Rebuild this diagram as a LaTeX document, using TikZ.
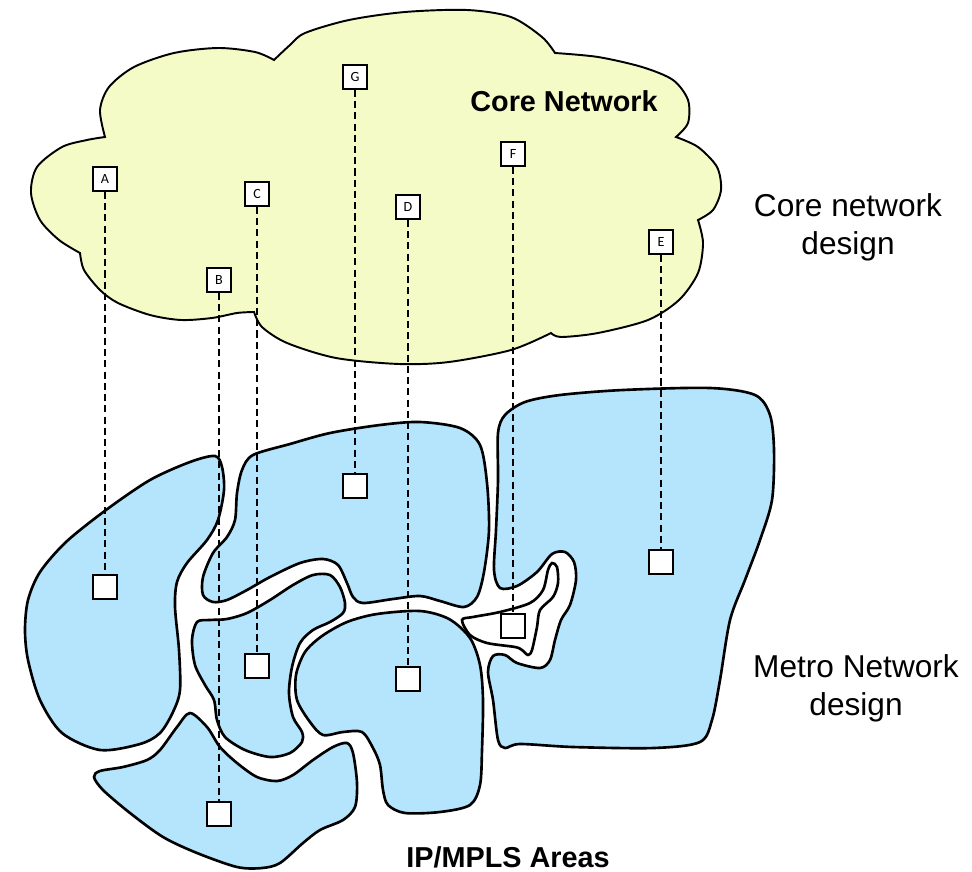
\documentclass[tikz,border=0pt]{standalone}
\usepackage{fontspec}
\setmainfont{Liberation Sans}
\newfontfamily\boxfont{Carlito}
\definecolor{cloudyellow}{RGB}{245,251,199}
\definecolor{metroblue}{RGB}{180,229,252}

\begin{document}
\begin{tikzpicture}[x=0.02cm,y=-0.02cm,
	cloudline/.style={draw=black,line width=1.1pt,fill=cloudyellow},
	area/.style={draw=black,line width=1.5pt,fill=metroblue},
	corebox/.style={draw=black,line width=0.9pt,fill=white,minimum size=0.48cm,inner sep=0pt,font=\boxfont\fontsize{8}{9}\selectfont},
	metrobox/.style={draw=black,line width=1.25pt,fill=white,minimum size=0.48cm,inner sep=0pt},
	link/.style={line width=0.85pt,dash pattern=on 4pt off 2.4pt},
	sidetext/.style={align=center,inner sep=0pt,font=\fontsize{18}{21.5}\selectfont},
	boldtext/.style={inner sep=0pt,font=\fontsize{16.4}{20}\selectfont\bfseries}]
\useasboundingbox (0,0) rectangle (972,871);

\draw[cloudline] plot[smooth] coordinates {(105,137) (100,110) (109,87) (134,67) (174,53) (218,48) (255,52) (274,60)}
	-- plot[smooth] coordinates {(274,60) (290,45) (305,33) (349,20) (405,12) (467,10) (511,17) (542,37) (555,53)}
	-- plot[smooth] coordinates {(555,53) (598,57) (642,67) (673,80) (688,100) (688,123) (676,137)}
	-- plot[smooth] coordinates {(676,137) (698,147) (717,167) (721,190) (713,210) (698,220)}
	-- plot[smooth] coordinates {(698,220) (703,243) (698,273) (679,300) (648,320) (598,333) (561,337) (551,333)}
	-- plot[smooth] coordinates {(551,333) (511,350) (449,362) (399,364) (336,358) (287,343) (262,327) (254,312)}
	-- plot[smooth] coordinates {(254,312) (237,313) (212,318) (181,320) (150,315) (118,303) (100,290) (84,270) (80,253)}
	-- plot[smooth] coordinates {(80,253) (59,240) (40,220) (31,193) (37,167) (62,147) (87,140) (105,137)} -- cycle;

\draw[area] plot[smooth cycle] coordinates {(215,456) (190,462) (150,480) (106,510) (66,542) (40,572) (28,600) (25,630) (28,660) (40,700) (62,733) (100,750) (140,744) (160,733) (173,712) (180,690) (179,650) (175,607) (177,582) (187,563) (207,540) (218,520) (224,490) (222,467)};
\draw[area] plot[smooth cycle] coordinates {(253,455) (242,470) (237,493) (235,520) (227,537) (213,553) (203,577) (203,595) (213,602) (227,600) (247,590) (270,577) (300,563) (323,559) (338,565) (347,583) (353,597) (363,603) (393,599) (420,596) (440,601) (464,607) (477,597) (484,572) (489,530) (487,483) (480,445) (460,428) (420,422) (380,425) (330,433) (290,444)};
\draw[area] plot[smooth cycle] coordinates {(197,622) (210,620) (227,619) (247,613) (270,600) (293,585) (313,575) (330,575) (340,587) (345,603) (343,613) (330,622) (313,630) (300,643) (292,667) (289,693) (293,717) (302,732) (302,742) (290,753) (270,757) (245,750) (225,737) (217,720) (214,700) (205,685) (195,665) (192,640)};
\draw[area] plot[smooth cycle] coordinates {(190,713) (207,727) (220,747) (237,763) (257,777) (277,781) (293,775) (313,760) (333,747) (347,743) (353,753) (357,783) (355,807) (343,820) (320,830) (303,843) (280,863) (262,868) (237,867) (197,853) (163,837) (130,813) (103,790) (94,777) (100,771) (123,767) (147,760) (160,750) (177,727)};
\draw[area] plot[smooth cycle] coordinates {(297,700) (296,675) (305,652) (322,636) (347,622) (377,614) (420,611) (449,619) (470,638) (480,665) (483,700) (482,750) (480,785) (470,805) (440,812) (405,813) (388,805) (383,790) (380,765) (373,748) (362,732) (343,732) (323,735) (310,722)};
\draw[area] plot[smooth cycle] coordinates {(498,433) (505,415) (525,402) (560,395) (623,390) (710,388) (755,395) (770,415) (774,450) (772,500) (760,540) (745,580) (730,620) (720,680) (712,720) (700,742) (654,748) (573,747) (520,744) (505,748) (498,740) (493,700) (488,672) (493,656) (505,655) (517,663) (540,668) (550,660) (555,640) (561,620) (570,605) (576,580) (574,562) (565,552) (552,554) (537,572) (517,586) (500,588) (494,570) (496,530) (498,480)};
\draw[area,fill=white] plot[smooth cycle] coordinates {(462,620) (473,617) (500,612) (530,603) (543,590) (548,570) (552,563) (557,567) (558,583) (553,597) (540,610) (537,627) (532,650) (528,655) (522,650) (515,647) (487,643) (470,635)};

\foreach \n/\x/\yc/\ym in {A/105/179/587, B/219/280/814, C/257/194/666, D/408/207/679, E/661/242/562, F/513/154/626, G/355/77/486} {
	\node (c\n) at (\x,\yc) [corebox] {\n};
	\node (m\n) at (\x,\ym) [metrobox] {};
	\draw[link] (c\n) -- (m\n);
}

\node (corename) at (564,101) [boldtext] {Core Network};
\node (coredesign) at (848,227) [sidetext] {Core network\\design};
\node (metrodesign) at (856,688) [sidetext] {Metro Network\\design};
\node (areas) at (508,857) [boldtext] {IP/MPLS Areas};
\end{tikzpicture}
\end{document}
